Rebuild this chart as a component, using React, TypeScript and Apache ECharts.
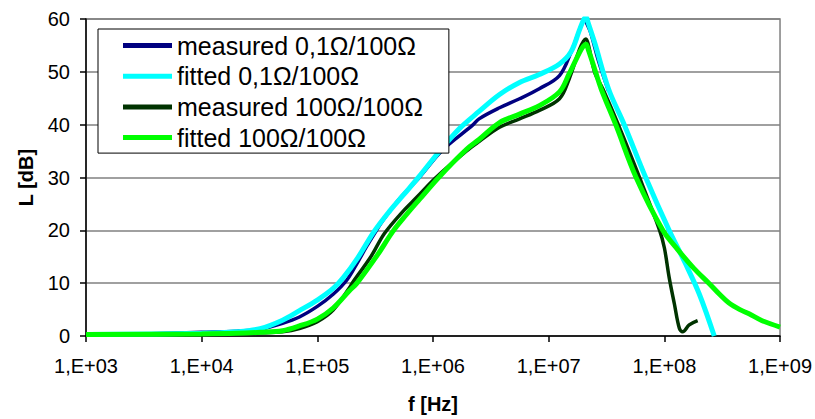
import React, { useEffect, useRef } from "react";
import * as echarts from "echarts";

// ---- data (f in Hz, L in dB) ----
const fMeas01 = [1e3, 3e3, 1e4, 2e4, 3.2e4, 5e4, 7e4, 1e5, 1.37e5, 1.8e5, 2.25e5, 2.66e5, 3.1e5, 3.7e5, 5.1e5, 7.6e5, 1.21e6, 2.2e6, 2.5e6, 3.76e6, 5.6e6, 8.3e6, 1.24e7, 1.56e7, 1.85e7, 1.97e7, 2.04e7, 2.12e7, 2.3e7, 2.7e7, 3.3e7];
const lMeas01 = [0.3, 0.4, 0.7, 0.9, 1.3, 2.4, 3.6, 5.6, 7.9, 10.6, 14.1, 16.9, 19.3, 21.9, 25.9, 30.0, 35.2, 39.9, 41.1, 43.2, 44.9, 46.8, 49.3, 53.7, 58.0, 59.5, 60.0, 59.3, 57.5, 52.0, 46.3];

const fFit01 = [1e3, 1e4, 2e4, 3.2e4, 5e4, 7e4, 1e5, 1.37e5, 1.67e5, 2.25e5, 3.1e5, 4.2e5, 5.5e5, 7.6e5, 1.14e6, 1.7e6, 2.5e6, 3.76e6, 5.6e6, 8.3e6, 1.24e7, 1.56e7, 1.85e7, 2.0e7, 2.1e7, 2.2e7, 2.5e7, 3.3e7, 4.5e7, 6.9e7, 1.1e8, 1.5e8, 2.0e8, 2.7e8];
const lFit01 = [0.3, 0.5, 0.8, 1.4, 3.0, 4.8, 6.8, 9.0, 11.0, 14.9, 19.8, 23.6, 26.6, 30.2, 35.0, 39.3, 42.5, 45.7, 48.0, 49.5, 51.5, 53.8, 58.0, 59.8, 60.4, 59.2, 55.5, 46.7, 40.0, 30.0, 20.0, 14.0, 8.0, 0.0];

const fMeas100 = [1e3, 1e4, 2e4, 3.2e4, 5e4, 7e4, 1e5, 1.37e5, 1.9e5, 2.0e5, 2.9e5, 3.8e5, 5.5e5, 7.2e5, 1.06e6, 1.94e6, 2.5e6, 3.76e6, 5.6e6, 8.3e6, 1.24e7, 1.5e7, 1.85e7, 2.0e7, 2.1e7, 2.2e7, 2.5e7, 2.95e7, 4.0e7, 6.1e7, 9.1e7, 1.0e8, 1.1e8, 1.22e8, 1.35e8, 1.44e8, 1.64e8, 1.94e8];
const lMeas100 = [0.3, 0.4, 0.5, 0.6, 0.8, 1.4, 2.7, 4.9, 9.2, 10.0, 15.0, 19.4, 23.6, 26.2, 30.0, 35.0, 36.8, 39.5, 41.1, 42.7, 44.9, 48.6, 54.3, 55.8, 56.2, 55.2, 49.9, 46.7, 40.0, 30.0, 20.0, 16.7, 11.1, 6.1, 1.4, 0.8, 2.1, 2.9];

const fFit100 = [1e3, 1e4, 2e4, 3.2e4, 5e4, 7e4, 1e5, 1.37e5, 1.9e5, 2.2e5, 3.3e5, 4.5e5, 5.9e5, 7.6e5, 1.14e6, 1.94e6, 2.5e6, 3.76e6, 5.6e6, 8.3e6, 1.24e7, 1.5e7, 1.85e7, 2.0e7, 2.1e7, 2.2e7, 2.5e7, 2.85e7, 3.8e7, 5.7e7, 9.7e7, 1.3e8, 1.8e8, 2.45e8, 3.0e8, 3.6e8, 4.5e8, 5.4e8, 7.0e8, 1e9];
const lFit100 = [0.3, 0.4, 0.5, 0.7, 1.0, 1.9, 3.2, 5.3, 8.6, 10.0, 15.3, 19.8, 23.0, 25.8, 30.2, 35.3, 37.2, 40.4, 42.0, 43.6, 46.2, 49.6, 53.7, 54.9, 55.2, 54.2, 50.5, 46.7, 40.0, 30.0, 20.0, 16.4, 12.8, 9.9, 7.9, 6.3, 5.0, 4.2, 2.9, 1.7];

const seriesNames = [
  "measured 0,1Ω/100Ω",
  "fitted 0,1Ω/100Ω",
  "measured 100Ω/100Ω",
  "fitted 100Ω/100Ω",
];
const seriesColors = ["#000080", "#00FFFF", "#003300", "#00FF00"];
const seriesWidths = [3.5, 5, 3.5, 5];

const yTicks = [0, 10, 20, 30, 40, 50, 60];

const zip = (xs: number[], ys: number[]) => xs.map((x, i) => [x, ys[i]]);

const FONT = "'Liberation Sans', Arial, sans-serif";

export default function App() {
  const ref = useRef<HTMLDivElement>(null);
  useEffect(() => {
    if (!ref.current) return;
    const chart = echarts.init(ref.current, undefined, { renderer: "svg" });
    const datasets = [
      zip(fMeas01, lMeas01),
      zip(fFit01, lFit01),
      zip(fMeas100, lMeas100),
      zip(fFit100, lFit100),
    ];
    chart.setOption({
      animation: false,
      backgroundColor: "#ffffff",
      textStyle: { fontFamily: FONT },
      grid: {
        left: 86,
        right: 34,
        top: 19,
        bottom: 80,
        show: true,
        borderColor: "#808080",
        borderWidth: 1.5,
      },
      legend: {
        orient: "vertical",
        left: 98,
        top: 29,
        padding: [4, 26, 3, 25],
        itemGap: 5.7,
        itemWidth: 49,
        itemHeight: 5,
        icon: "rect",
        backgroundColor: "#ffffff",
        borderColor: "#000000",
        borderWidth: 1,
        borderRadius: 0,
        data: seriesNames,
        textStyle: { fontSize: 25, fontFamily: FONT, color: "#000", lineHeight: 25 },
      },
      xAxis: {
        type: "log",
        logBase: 10,
        min: 1e3,
        max: 1e9,
        splitNumber: 6,
        name: "f [Hz]",
        nameLocation: "middle",
        nameGap: 58,
        nameTextStyle: { fontSize: 20, fontWeight: "bold", fontFamily: FONT, color: "#000" },
        axisLine: { show: true, lineStyle: { color: "#000", width: 1.5 } },
        axisTick: { show: true, inside: false, length: 6, lineStyle: { color: "#000", width: 1.5 } },
        minorTick: { show: false },
        splitLine: { show: false },
        axisLabel: {
          fontSize: 20,
          fontFamily: FONT,
          color: "#000",
          margin: 20,
          formatter: (v: number) => {
            const e = Math.round(Math.log10(v));
            return "1,E+" + String(e).padStart(2, "0");
          },
        },
      },
      yAxis: {
        type: "value",
        min: yTicks[0],
        max: yTicks[yTicks.length - 1],
        interval: 10,
        name: "L [dB]",
        nameLocation: "middle",
        nameGap: 50,
        nameRotate: 90,
        nameTextStyle: { fontSize: 20, fontWeight: "bold", fontFamily: FONT, color: "#000" },
        axisLine: { show: true, lineStyle: { color: "#000", width: 1.5 } },
        axisTick: { show: true, inside: false, length: 6, lineStyle: { color: "#000", width: 1.5 } },
        splitLine: { show: true, lineStyle: { color: "#808080", width: 1.5 } },
        axisLabel: { fontSize: 20, fontFamily: FONT, color: "#000", margin: 16 },
      },
      series: seriesNames.map((name, i) => ({
        name,
        type: "line",
        data: datasets[i],
        showSymbol: false,
        symbol: "none",
        smooth: 0.35,
        clip: true,
        color: seriesColors[i],
        lineStyle: { color: seriesColors[i], width: seriesWidths[i] },
        itemStyle: { color: seriesColors[i] },
        z: 2 + i,
      })),
    });
    return () => chart.dispose();
  }, []);
  return (
    <div
      ref={ref}
      style={{ position: "fixed", left: 0, top: 0, width: 815, height: 419 }}
    />
  );
}
